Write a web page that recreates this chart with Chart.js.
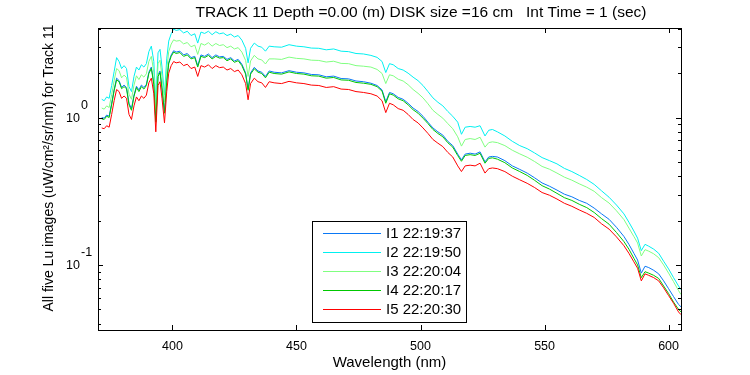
<!DOCTYPE html>
<html>
<head>
<meta charset="utf-8">
<title>Track 11 Lu spectra</title>
<script src="https://cdn.jsdelivr.net/npm/chart.js@4.4.1/dist/chart.umd.min.js"></script>
<style>
  html, body { margin: 0; padding: 0; background: #fff; }
</style>
</head>
<body>
<canvas id="luChart" width="750" height="375"></canvas>
<script>
// wavelength (nm) of each sample
const wavelengths = [
  371.5, 372.5, 373.5, 374.5, 375.5, 376.5, 377.5, 378.5, 379.5, 380.5, 381.5, 382.5, 383.5, 384.5, 385.5, 386.5,
  387.5, 388.5, 389.5, 390.5, 391.5, 392.5, 393.3, 394.2, 395, 395.8, 396.8, 397.7, 398.5, 399.5, 400.5, 401.5,
  403, 404.5, 406, 407.5, 409, 410.2, 411.5, 413, 414.5, 416, 417.5, 419, 420.5, 422, 423.5, 425, 426.5, 428,
  429.5, 430.5, 431.5, 433, 434.5, 436, 437.5, 439,
  441, 444, 447, 450, 453, 456, 459, 462, 465, 468, 471, 474, 477, 480, 482.5, 484.5,
  486, 487.5, 489, 491, 493, 495, 497, 499, 501, 503, 505, 507, 509, 511, 513, 515, 516.5, 518, 520, 522, 524, 526, 527.5, 529,
  531, 534, 537, 540, 543, 546, 549, 552, 555, 558, 561, 564, 567, 570, 573, 576, 579, 582,
  584, 586, 587.5, 589, 590.5, 592, 594, 596, 598, 600, 602, 604, 605
];

const lu1 = [
  1.0, 0.99, 1.04, 1.02, 1.25, 1.55, 1.85, 1.78, 1.6, 1.66, 1.6, 1.25, 1.15, 1.42, 1.63, 1.54,
  1.66, 1.6, 1.68, 2.03, 2.2, 1.72, 0.95, 1.95, 2.07, 1.6, 1.09, 1.78, 2.37, 2.66, 2.84, 2.78,
  2.82, 2.66, 2.72, 2.55, 2.6, 2.25, 2.66, 2.6, 2.7, 2.55, 2.66, 2.58, 2.6, 2.48, 2.55, 2.42, 2.48, 2.3,
  2.01, 1.56, 2.01, 2.19, 2.07, 2.03, 1.9, 2.07,
  2.03, 2.01, 2.08, 2.03, 2.01, 1.96, 1.95, 1.89, 1.91, 1.84, 1.83, 1.77, 1.75, 1.71, 1.65, 1.54,
  1.28, 1.48, 1.45, 1.37, 1.33, 1.25, 1.16, 1.1, 1.02, 0.93, 0.85, 0.8, 0.76, 0.69, 0.645, 0.565, 0.516, 0.565, 0.573, 0.565, 0.585, 0.5, 0.54, 0.545,
  0.54, 0.51, 0.47, 0.445, 0.42, 0.39, 0.36, 0.342, 0.322, 0.302, 0.29, 0.274, 0.262, 0.243, 0.222, 0.204, 0.18, 0.156,
  0.138, 0.12, 0.108, 0.088, 0.098, 0.096, 0.092, 0.087, 0.078, 0.069, 0.061, 0.054, 0.052
];

const lu2 = [
  1.33, 1.3, 1.38, 1.35, 1.65, 2.05, 2.55, 2.4, 2.15, 2.25, 2.15, 1.62, 1.5, 1.9, 2.2, 2.1,
  2.28, 2.2, 2.32, 2.8, 3.05, 2.4, 1.26, 2.75, 2.9, 2.2, 1.42, 2.5, 3.3, 3.7, 3.98, 3.9,
  3.95, 3.75, 3.85, 3.6, 3.7, 3.2, 3.8, 3.72, 3.85, 3.65, 3.82, 3.7, 3.75, 3.6, 3.68, 3.52, 3.6, 3.35,
  2.95, 2.35, 2.95, 3.2, 3.05, 3.0, 2.82, 3.05,
  3.02, 3.0, 3.12, 3.05, 3.02, 2.96, 2.95, 2.88, 2.92, 2.82, 2.8, 2.72, 2.7, 2.64, 2.56, 2.4,
  2.02, 2.32, 2.28, 2.15, 2.1, 2.0, 1.88, 1.78, 1.65, 1.5, 1.36, 1.27, 1.2, 1.1, 1.02, 0.93, 0.77, 0.86, 0.87, 0.86, 0.88, 0.75, 0.82, 0.83,
  0.8, 0.75, 0.69, 0.645, 0.615, 0.575, 0.535, 0.51, 0.485, 0.452, 0.43, 0.405, 0.38, 0.352, 0.318, 0.288, 0.255, 0.222,
  0.195, 0.17, 0.152, 0.125, 0.138, 0.134, 0.128, 0.12, 0.106, 0.094, 0.082, 0.072, 0.068
];

const lu3 = [
  1.16, 1.14, 1.2, 1.17, 1.43, 1.78, 2.15, 2.08, 1.86, 1.94, 1.87, 1.44, 1.33, 1.66, 1.92, 1.81,
  1.95, 1.88, 1.98, 2.4, 2.6, 2.03, 1.1, 2.32, 2.45, 1.89, 1.28, 2.1, 2.8, 3.15, 3.37, 3.3,
  3.33, 3.16, 3.23, 3.02, 3.1, 2.68, 3.18, 3.1, 3.22, 3.05, 3.18, 3.08, 3.12, 2.98, 3.05, 2.92, 2.98, 2.78,
  2.44, 1.9, 2.42, 2.64, 2.5, 2.46, 2.31, 2.5,
  2.5, 2.48, 2.57, 2.52, 2.5, 2.45, 2.44, 2.38, 2.41, 2.33, 2.32, 2.25, 2.23, 2.2, 2.12, 1.99,
  1.7, 1.95, 1.92, 1.82, 1.77, 1.67, 1.55, 1.46, 1.36, 1.24, 1.12, 1.05, 0.99, 0.91, 0.84, 0.74, 0.64, 0.71, 0.72, 0.71, 0.735, 0.63, 0.676, 0.684,
  0.676, 0.645, 0.6, 0.567, 0.538, 0.503, 0.466, 0.446, 0.42, 0.394, 0.376, 0.355, 0.337, 0.316, 0.286, 0.263, 0.233, 0.203,
  0.178, 0.156, 0.141, 0.115, 0.127, 0.124, 0.119, 0.112, 0.1, 0.088, 0.077, 0.067, 0.063
];

const lu4 = [
  0.98, 0.97, 1.02, 1.0, 1.22, 1.52, 1.8, 1.75, 1.57, 1.62, 1.57, 1.22, 1.12, 1.39, 1.6, 1.5,
  1.62, 1.56, 1.65, 1.99, 2.15, 1.68, 0.93, 1.9, 2.02, 1.56, 1.07, 1.74, 2.32, 2.6, 2.78, 2.72,
  2.76, 2.6, 2.66, 2.5, 2.55, 2.2, 2.6, 2.55, 2.64, 2.5, 2.6, 2.53, 2.55, 2.43, 2.5, 2.37, 2.43, 2.25,
  1.97, 1.53, 1.97, 2.14, 2.03, 1.99, 1.86, 2.03,
  1.99, 1.97, 2.04, 1.99, 1.97, 1.92, 1.91, 1.85, 1.87, 1.8, 1.79, 1.73, 1.71, 1.68, 1.62, 1.51,
  1.25, 1.45, 1.42, 1.34, 1.3, 1.22, 1.13, 1.07, 0.99, 0.91, 0.83, 0.78, 0.74, 0.675, 0.63, 0.552, 0.505, 0.553, 0.56, 0.553, 0.572, 0.49, 0.528, 0.533,
  0.522, 0.494, 0.455, 0.43, 0.405, 0.375, 0.345, 0.327, 0.306, 0.286, 0.274, 0.258, 0.245, 0.227, 0.206, 0.189, 0.166, 0.144,
  0.128, 0.111, 0.1, 0.082, 0.09, 0.088, 0.085, 0.081, 0.072, 0.064, 0.056, 0.05, 0.048
];

const lu5 = [
  0.85, 0.84, 0.88, 0.86, 1.05, 1.3, 1.55, 1.5, 1.35, 1.4, 1.35, 1.05, 0.97, 1.2, 1.38, 1.3,
  1.4, 1.35, 1.42, 1.72, 1.85, 1.45, 0.8, 1.65, 1.75, 1.35, 0.92, 1.5, 2.0, 2.25, 2.4, 2.35,
  2.38, 2.25, 2.3, 2.15, 2.2, 1.9, 2.25, 2.2, 2.28, 2.15, 2.25, 2.18, 2.2, 2.1, 2.15, 2.05, 2.1, 1.95,
  1.7, 1.32, 1.7, 1.85, 1.75, 1.72, 1.6, 1.75,
  1.72, 1.7, 1.76, 1.72, 1.7, 1.66, 1.65, 1.6, 1.62, 1.56, 1.55, 1.5, 1.48, 1.45, 1.4, 1.3,
  1.08, 1.25, 1.22, 1.15, 1.12, 1.05, 0.97, 0.92, 0.85, 0.78, 0.71, 0.67, 0.635, 0.58, 0.54, 0.47, 0.43, 0.47, 0.475, 0.47, 0.49, 0.42, 0.45, 0.455,
  0.45, 0.43, 0.4, 0.378, 0.358, 0.335, 0.31, 0.297, 0.28, 0.262, 0.25, 0.236, 0.224, 0.21, 0.19, 0.175, 0.155, 0.135,
  0.12, 0.105, 0.095, 0.078, 0.087, 0.085, 0.082, 0.078, 0.07, 0.062, 0.055, 0.048, 0.046
];

const seriesLabels = ['I1 22:19:37', 'I2 22:19:50', 'I3 22:20:04', 'I4 22:20:17', 'I5 22:20:30'];
const xTickValues = [400, 450, 500, 550, 600];
const yDecadeTicks = [0.1, 1];
const yMinorTicks = [0.04, 0.05, 0.06, 0.07, 0.08, 0.09, 0.2, 0.3, 0.4, 0.5, 0.6, 0.7, 0.8, 0.9, 2, 3, 4];

const titleText = 'TRACK 11 Depth =0.00 (m) DISK size =16 cm   Int Time = 1 (sec)';
const yLabelText = 'All five Lu images (uW/cm²/sr/nm) for Track 11';
const FONT = '"Liberation Sans", Arial, Helvetica, sans-serif';
const colors = ['#0a78f5', '#00f0f0', '#80ff80', '#00c800', '#ff0000'];

const allSeries = [lu1, lu2, lu3, lu4, lu5];
const datasets = allSeries.map((vals, k) => ({
  label: seriesLabels[k],
  data: wavelengths.map((w, j) => ({ x: w, y: vals[j] })),
  borderColor: colors[k],
  borderWidth: 1,
  pointRadius: 0,
  tension: 0,
  fill: false,
  order: 5 - k
}));

// MATLAB-like box, inward ticks, superscript decade labels, title, legend
const matlabLook = {
  id: 'matlabLook',
  afterDatasetsDraw(chart) {
    const { ctx, chartArea: a, scales } = chart;
    const xs = scales.x, ys = scales.y;
    ctx.save();
    ctx.strokeStyle = '#000';
    ctx.lineWidth = 1;
    ctx.strokeRect(Math.round(a.left) + 0.5, Math.round(a.top) + 0.5,
      Math.round(a.right - a.left), Math.round(a.bottom - a.top));

    ctx.beginPath();
    xTickValues.forEach(v => {
      const px = Math.round(xs.getPixelForValue(v)) + 0.5;
      ctx.moveTo(px, a.bottom); ctx.lineTo(px, a.bottom - 5);
      ctx.moveTo(px, a.top); ctx.lineTo(px, a.top + 5);
    });
    const yTick = (v, len) => {
      const py = Math.round(ys.getPixelForValue(v)) + 0.5;
      ctx.moveTo(a.left, py); ctx.lineTo(a.left + len, py);
      ctx.moveTo(a.right, py); ctx.lineTo(a.right - len, py);
    };
    yDecadeTicks.forEach(v => yTick(v, 5));
    yMinorTicks.forEach(v => yTick(v, 3));
    ctx.stroke();

    // decade labels 10^n
    ctx.fillStyle = '#000';
    ctx.textBaseline = 'middle';
    ctx.font = '12.5px ' + FONT;
    yDecadeTicks.forEach(v => {
      const py = ys.getPixelForValue(v);
      const exp = String(Math.round(Math.log10(v)));
      ctx.textAlign = 'right';
      ctx.fillText('10', 80, py + 1);
      ctx.textAlign = 'left';
      ctx.fillText(exp, 81, py - 12);
    });

    // title
    ctx.font = '15.5px ' + FONT;
    ctx.textAlign = 'center';
    ctx.fillText(titleText, 421, 13);

    // y axis label
    ctx.save();
    ctx.translate(49, 168);
    ctx.rotate(-Math.PI / 2);
    ctx.font = '14px ' + FONT;
    ctx.fillText(yLabelText, 0, 0);
    ctx.restore();
    ctx.restore();
  },
  afterDraw(chart) {
    const { ctx } = chart;
    const box = { left: 312, top: 221, right: 466, bottom: 322 };
    ctx.save();
    ctx.fillStyle = '#fff';
    ctx.fillRect(box.left, box.top, box.right - box.left, box.bottom - box.top);
    ctx.strokeStyle = '#000';
    ctx.lineWidth = 1;
    ctx.strokeRect(box.left + 0.5, box.top + 0.5, box.right - box.left, box.bottom - box.top);
    ctx.font = '15px ' + FONT;
    ctx.textBaseline = 'middle';
    ctx.textAlign = 'left';
    seriesLabels.forEach((label, k) => {
      const y = Math.round(box.top + 11.5 + k * 19.2) + 0.5;
      ctx.strokeStyle = colors[k];
      ctx.beginPath();
      ctx.moveTo(323, y); ctx.lineTo(381, y);
      ctx.stroke();
      ctx.fillStyle = '#000';
      ctx.fillText(label, 386, y + 0.5);
    });
    ctx.restore();
  }
};

new Chart(document.getElementById('luChart'), {
  type: 'line',
  data: { datasets },
  options: {
    responsive: false,
    devicePixelRatio: 1,
    animation: false,
    layout: { padding: { top: 28, right: 69, left: 0, bottom: 0 } },
    plugins: { legend: { display: false }, tooltip: { enabled: false }, title: { display: false } },
    scales: {
      x: {
        type: 'linear',
        min: 370,
        max: 605,
        afterBuildTicks: s => { s.ticks = xTickValues.map(v => ({ value: v })); },
        afterFit: s => { s.height = 45; },
        grid: { display: false, drawTicks: false },
        border: { display: false },
        ticks: { color: '#000', font: { family: FONT, size: 12.5 }, padding: 9, maxRotation: 0 },
        title: { display: true, text: 'Wavelength (nm)', color: '#000', font: { family: FONT, size: 15 }, padding: { top: 0, bottom: 3 } }
      },
      y: {
        type: 'logarithmic',
        min: 0.0362,
        max: 4.05,
        afterFit: s => { s.width = 98; },
        grid: { display: false, drawTicks: false },
        border: { display: false },
        ticks: { display: false }
      }
    }
  },
  plugins: [matlabLook]
});
</script>
</body>
</html>
